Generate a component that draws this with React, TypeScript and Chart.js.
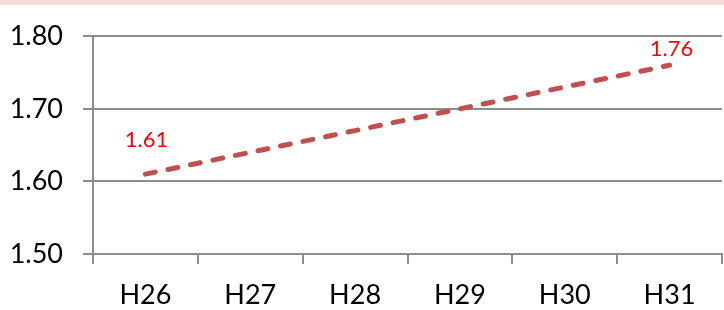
import React, { useEffect, useRef } from "react";
import { Chart, registerables } from "chart.js";

Chart.register(...registerables);

const categories = ["H26", "H27", "H28", "H29", "H30", "H31"];
const values = [1.61, 1.64, 1.67, 1.7, 1.73, 1.76];
const labelledIndices = [0, 5];
const yTicks = [1.5, 1.6, 1.7, 1.8];

const LINE_COLOR = "#c0504d";
const GRID_COLOR = "#8c8c8c";
const FONT = "Lato";

const labelOffsets: Record<number, [number, number]> = {
  0: [1, -34],
  5: [2, -16],
};

const pointLabels = {
  id: "pointLabels",
  afterDatasetsDraw(chart: any) {
    const meta = chart.getDatasetMeta(0);
    const ctx = chart.ctx;
    ctx.save();
    ctx.font = `22px ${FONT}`;
    ctx.fillStyle = "#ff0000";
    ctx.textAlign = "center";
    ctx.textBaseline = "middle";
    labelledIndices.forEach((i) => {
      const el = meta.data[i];
      if (!el) return;
      const [dx, dy] = labelOffsets[i] || [0, -20];
      ctx.fillText(values[i].toFixed(2), el.x + dx, el.y + dy);
    });
    ctx.restore();
  },
};

export default function App() {
  const ref = useRef<HTMLCanvasElement | null>(null);
  useEffect(() => {
    let chart: Chart | null = null;
    let cancelled = false;
    const make = () => {
      if (cancelled || !ref.current) return;
      chart = new Chart(ref.current, {
        type: "line",
        data: {
          labels: categories,
          datasets: [
            {
              data: values,
              borderColor: LINE_COLOR,
              borderWidth: 5,
              borderDash: [10, 13],
              borderCapStyle: "round",
              pointRadius: 0,
              tension: 0,
              fill: false,
            },
          ],
        },
        options: {
          animation: false,
          responsive: false,
          maintainAspectRatio: false,
          layout: { padding: { top: 36, right: 2, left: 0, bottom: 0 } },
          plugins: {
            legend: { display: false },
            tooltip: { enabled: false },
          },
          scales: {
            x: {
              offset: true,
              afterFit: (s: any) => {
                s.height = 56;
              },
              grid: {
                offset: true,
                drawOnChartArea: false,
                drawTicks: true,
                tickLength: 10,
                color: GRID_COLOR,
                lineWidth: 2,
              },
              border: { display: true, color: GRID_COLOR, width: 2 },
              ticks: {
                color: "#000",
                font: { family: FONT, size: 27 },
                padding: 15,
                maxRotation: 0,
              },
            },
            y: {
              min: 1.5,
              max: 1.8,
              afterFit: (s: any) => {
                s.width = 93;
              },
              afterBuildTicks: (s: any) => {
                s.ticks = yTicks.map((v) => ({ value: v }));
              },
              grid: {
                drawTicks: true,
                tickLength: 10,
                color: GRID_COLOR,
                lineWidth: 2,
              },
              border: { display: true, color: GRID_COLOR, width: 2 },
              ticks: {
                color: "#000",
                font: { family: FONT, size: 27 },
                padding: 20,
                callback: (v: any) => Number(v).toFixed(2),
              },
            },
          },
        },
        plugins: [pointLabels],
      });
    };
    const fonts: any = (document as any).fonts;
    if (fonts && fonts.load) {
      Promise.all([fonts.load(`27px ${FONT}`), fonts.load(`22px ${FONT}`)])
        .catch(() => null)
        .then(make);
    } else {
      make();
    }
    return () => {
      cancelled = true;
      if (chart) chart.destroy();
    };
  }, []);

  return (
    <div
      style={{
        position: "absolute",
        left: 0,
        top: 0,
        width: 724,
        height: 310,
        background: "#fff",
        overflow: "hidden",
      }}
    >
      <div
        style={{
          position: "absolute",
          left: 0,
          top: 0,
          width: 724,
          height: 5,
          background: "#f2dcdb",
        }}
      />
      <canvas
        ref={ref}
        width={724}
        height={310}
        style={{ position: "absolute", left: 0, top: 0, width: 724, height: 310 }}
      />
    </div>
  );
}
